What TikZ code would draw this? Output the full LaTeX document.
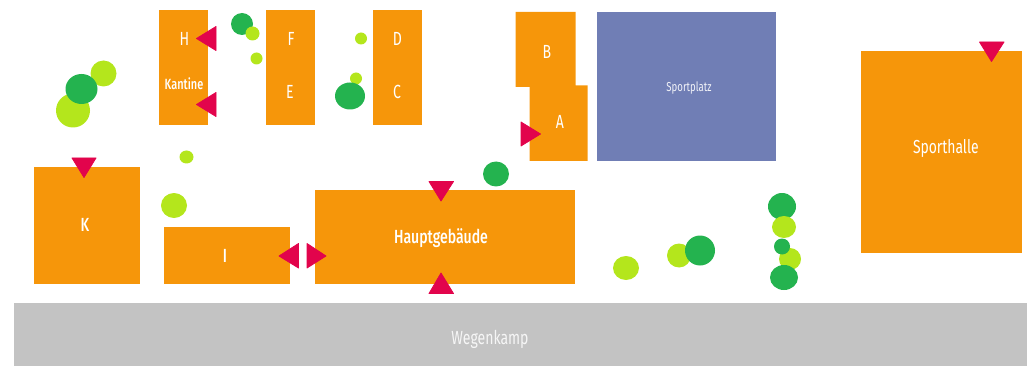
\documentclass[tikz,border=0pt]{standalone}
\usepackage{fontspec}
\setmainfont{Fira Sans}
\newfontfamily\cond[FakeStretch=0.74]{Fira Sans}
\newfontfamily\condm[FakeStretch=0.74]{Fira Sans Medium}
\definecolor{bau}{HTML}{F6960A}
\definecolor{platz}{HTML}{707EB5}
\definecolor{strasse}{HTML}{C3C3C3}
\definecolor{dunkel}{HTML}{24B34F}
\definecolor{hell}{HTML}{B4E61C}
\definecolor{rot}{HTML}{E2044C}
\tikzset{
  bld/.style={fill=bau,draw=none},
  tree/.style={fill=hell,draw=none},
  treed/.style={fill=dunkel,draw=none},
  door/.style={fill=rot,draw=rot,line width=0.8pt,line join=round},
  lab/.style={text=white,inner sep=0pt,anchor=base,font=\cond\fontsize{19}{19}\selectfont},
  labb/.style={text=white,inner sep=0pt,anchor=base,font=\condm\fontsize{19}{19}\selectfont},
}
\begin{document}
\begin{tikzpicture}[x=1pt,y=-1pt]
\useasboundingbox (0,0) rectangle (1027,366);
% road
\fill[strasse] (14,302.5) rectangle (1027,366);
% buildings
\fill[bld] (158.5,10.5) rectangle (207.5,125);
\fill[bld] (266,10.5) rectangle (315,125);
\fill[bld] (372.5,10.5) rectangle (421.5,125);
\fill[bld] (515.5,12) -- (575.5,12) -- (575.5,85.5) -- (587.5,85.5) -- (587.5,161) -- (529.5,161) -- (529.5,87) -- (515.5,87) -- cycle;
\fill[platz] (596.5,11.7) rectangle (775.5,161.5);
\fill[bld] (861,51) rectangle (1021.5,253);
\fill[bld] (34,166.7) rectangle (140.3,284);
\fill[bld] (163.7,226.7) rectangle (290,284);
\fill[bld] (315,190) rectangle (575.3,284.3);
% trees
\fill[tree] (103.5,73.5) circle (13);
\fill[tree] (73,110.5) circle (17);
\fill[treed] (81.5,89) ellipse [x radius=16,y radius=15];
\fill[treed] (242,24) circle (11);
\fill[tree] (252.5,33.5) circle (7);
\fill[tree] (256.5,58.5) circle (6);
\fill[tree] (186.5,157) ellipse [x radius=7,y radius=6.5];
\fill[tree] (361,38.5) circle (6);
\fill[tree] (356,78.5) circle (6);
\fill[treed] (350,96) ellipse [x radius=15,y radius=13.5];
\fill[treed] (496,174) ellipse [x radius=13,y radius=12.5];
\fill[tree] (174,205.5) ellipse [x radius=13,y radius=12.5];
\fill[tree] (626,268) ellipse [x radius=13,y radius=12];
\fill[tree] (679,255.5) ellipse [x radius=12,y radius=12];
\fill[treed] (700,250.5) circle (15);
\fill[treed] (782,206.5) ellipse [x radius=14,y radius=13.5];
\fill[tree] (784,227) ellipse [x radius=12,y radius=11];
\fill[tree] (790,259) circle (11);
\fill[treed] (782,246.5) circle (8);
\fill[treed] (784,277.5) ellipse [x radius=14,y radius=12.5];
% entrances
\draw[door] (196.5,38.5) -- (216,26.5) -- (216,50.5) -- cycle;
\draw[door] (196.5,104.5) -- (216,92.5) -- (216,116.5) -- cycle;
\draw[door] (84,177.5) -- (72,158) -- (96,158) -- cycle;
\draw[door] (540.5,134) -- (521,122) -- (521,146) -- cycle;
\draw[door] (991.5,61.5) -- (979.5,42) -- (1004,42) -- cycle;
\draw[door] (279,256) -- (298.5,243.5) -- (298.5,268) -- cycle;
\draw[door] (326,256) -- (307,243.5) -- (307,268) -- cycle;
\draw[door] (441,201) -- (429,181.5) -- (453.5,181.5) -- cycle;
\draw[door] (441,273) -- (429,293.5) -- (453.5,293.5) -- cycle;
% labels
\node[lab] (h) at (184.5,45.7) {H};
\node[labb,font=\condm\fontsize{14.8}{14.8}\selectfont] (kantine) at (184,89.7) {Kantine};
\node[lab] (f) at (291,45.5) {F};
\node[lab] (e) at (290,99) {E};
\node[lab] (d) at (397.5,45.5) {D};
\node[lab] (c) at (397,99) {C};
\node[lab] (b) at (547,59) {B};
\node[lab] (a) at (560,129) {A};
\node[lab,font=\cond\fontsize{13}{13}\selectfont,text=white!90!platz] (sportplatz) at (689,92) {Sportplatz};
\node[lab,font=\cond\fontsize{18.8}{18.8}\selectfont] (sporthalle) at (945.8,154) {Sporthalle};
\node[labb] (k) at (85,231.3) {K};
\node[labb] (i) at (225,262.5) {I};
\node[labb] (haupt) at (441,243.5) {Hauptgebäude};
\node[lab,text=white!85!strasse] (weg) at (490,344.3) {Wegenkamp};
\end{tikzpicture}
\end{document}
